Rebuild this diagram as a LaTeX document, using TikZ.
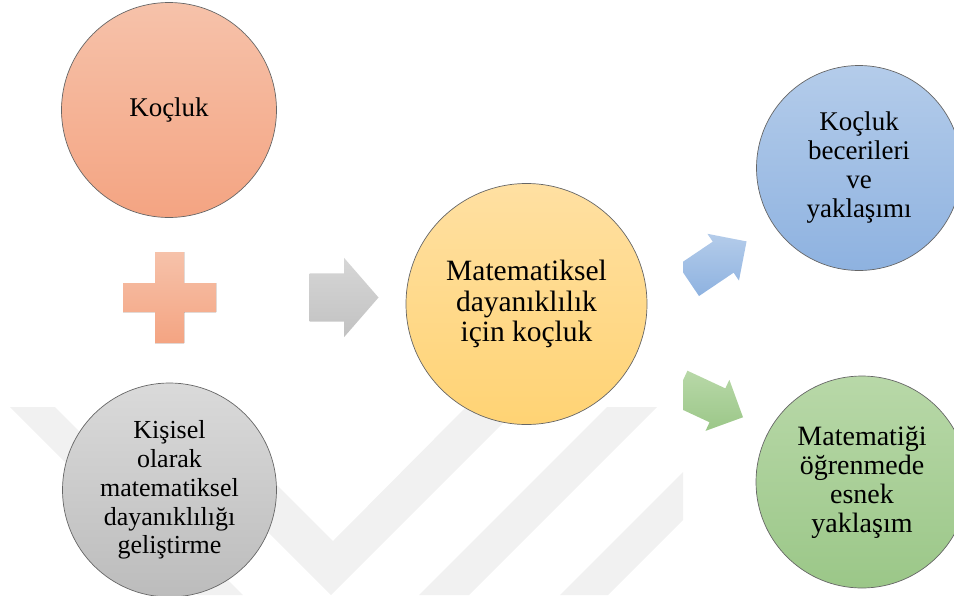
\documentclass[tikz,border=0pt]{standalone}
\usepackage{fontspec}
\setmainfont{Liberation Serif}
\usetikzlibrary{shapes.arrows}
\definecolor{salmontop}{RGB}{246,194,170}
\definecolor{salmonbot}{RGB}{244,164,130}
\definecolor{greytop}{RGB}{218,218,218}
\definecolor{greybot}{RGB}{188,188,188}
\definecolor{yellowtop}{RGB}{255,224,162}
\definecolor{yellowbot}{RGB}{255,211,116}
\definecolor{bluetop}{RGB}{180,204,234}
\definecolor{bluebot}{RGB}{142,178,224}
\definecolor{greentop}{RGB}{184,216,168}
\definecolor{greenbot}{RGB}{155,199,136}
\definecolor{watermark}{RGB}{241,241,241}
\tikzset{
  ball/.style={%
    circle,
    draw=black!60,
    line width=0.7pt,
    inner sep=0pt,
    align=center,
    minimum size=#1,
  },
  salmon ball/.style={top color=salmontop, bottom color=salmonbot},
  grey ball/.style={top color=greytop, bottom color=greybot},
  yellow ball/.style={top color=yellowtop, bottom color=yellowbot},
  blue ball/.style={top color=bluetop, bottom color=bluebot},
  green ball/.style={top color=greentop, bottom color=greenbot},
  push arrow/.style={%
    single arrow,
    draw=none,
    inner xsep=0pt,
    inner ysep=24pt,
    minimum height=69pt,
    single arrow head extend=15.5pt,
    single arrow tip angle=98,
    top color=black!16, bottom color=black!24,
  },
  side arrow/.style={%
    single arrow,
    draw=none,
    inner xsep=0pt,
    inner ysep=18.5pt,
    minimum height=70pt,
    single arrow head extend=9.5pt,
    rotate=#1,
  }
}

\begin{document}
\begin{tikzpicture}[x=1pt,y=-1pt]
\useasboundingbox (0,0) rectangle (954,595);
\clip (0,0) rectangle (954,595);
% faint background marks
\begin{scope}
\clip (0,407) rectangle (683,595);
\fill[watermark] (10,407) -- (55,407) -- (243,595) -- (198,595) -- cycle;
\fill[watermark] (143,407) -- (199,407) -- (333,541) -- (466,407) -- (519,407) -- (331,595) -- cycle;
\fill[watermark] (607,407) -- (657,407) -- (469,595) -- (419,595) -- cycle;
\fill[watermark] (748,407) -- (796,407) -- (608,595) -- (560,595) -- cycle;
\end{scope}
\node[ball=215pt, salmon ball, font=\fontsize{27pt}{28pt}\selectfont] (kocluk) at (169,110) {Koçluk};
\node[ball=214pt, grey ball, font=\fontsize{26pt}{28.8pt}\selectfont] (kisisel) at (169.5,490)
  {Kişisel\\olarak\\matematiksel\\dayanıklılığı\\geliştirme};
\node[ball=241pt, yellow ball, font=\fontsize{29.5pt}{30.5pt}\selectfont] (dayaniklilik) at (526.5,304)
  {Matematiksel\\dayanıklılık\\için koçluk};
\node[ball=205pt, blue ball, font=\fontsize{27pt}{29pt}\selectfont] (beceri) at (859,168)
  {Koçluk\\becerileri\\ve\\yaklaşımı};
\node[ball=212pt, green ball, font=\fontsize{28pt}{29pt}\selectfont] (esnek) at (862,482)
  {Matematiği\\öğrenmede\\esnek\\yaklaşım};
% plus sign
\fill[top color=salmontop, bottom color=salmonbot]
  (155,252) -- (184,252) -- (184,283) -- (216,283) -- (216,312) -- (184,312)
  -- (184,343) -- (155,343) -- (155,312) -- (123,312) -- (123,283) -- (155,283) -- cycle;
\node[push arrow] (push) at (333.5,297.5) {};
\begin{scope}
\clip (683,0) rectangle (954,595);
\node[side arrow=34, top color=bluetop, bottom color=bluebot] (up) at (709.8,266.2) {};
\node[side arrow=-25, top color=greentop, bottom color=greenbot] (down) at (702.8,398.5) {};
%\node[side arrow=0] at (710,330) {};
\end{scope}
\end{tikzpicture}
\end{document}
